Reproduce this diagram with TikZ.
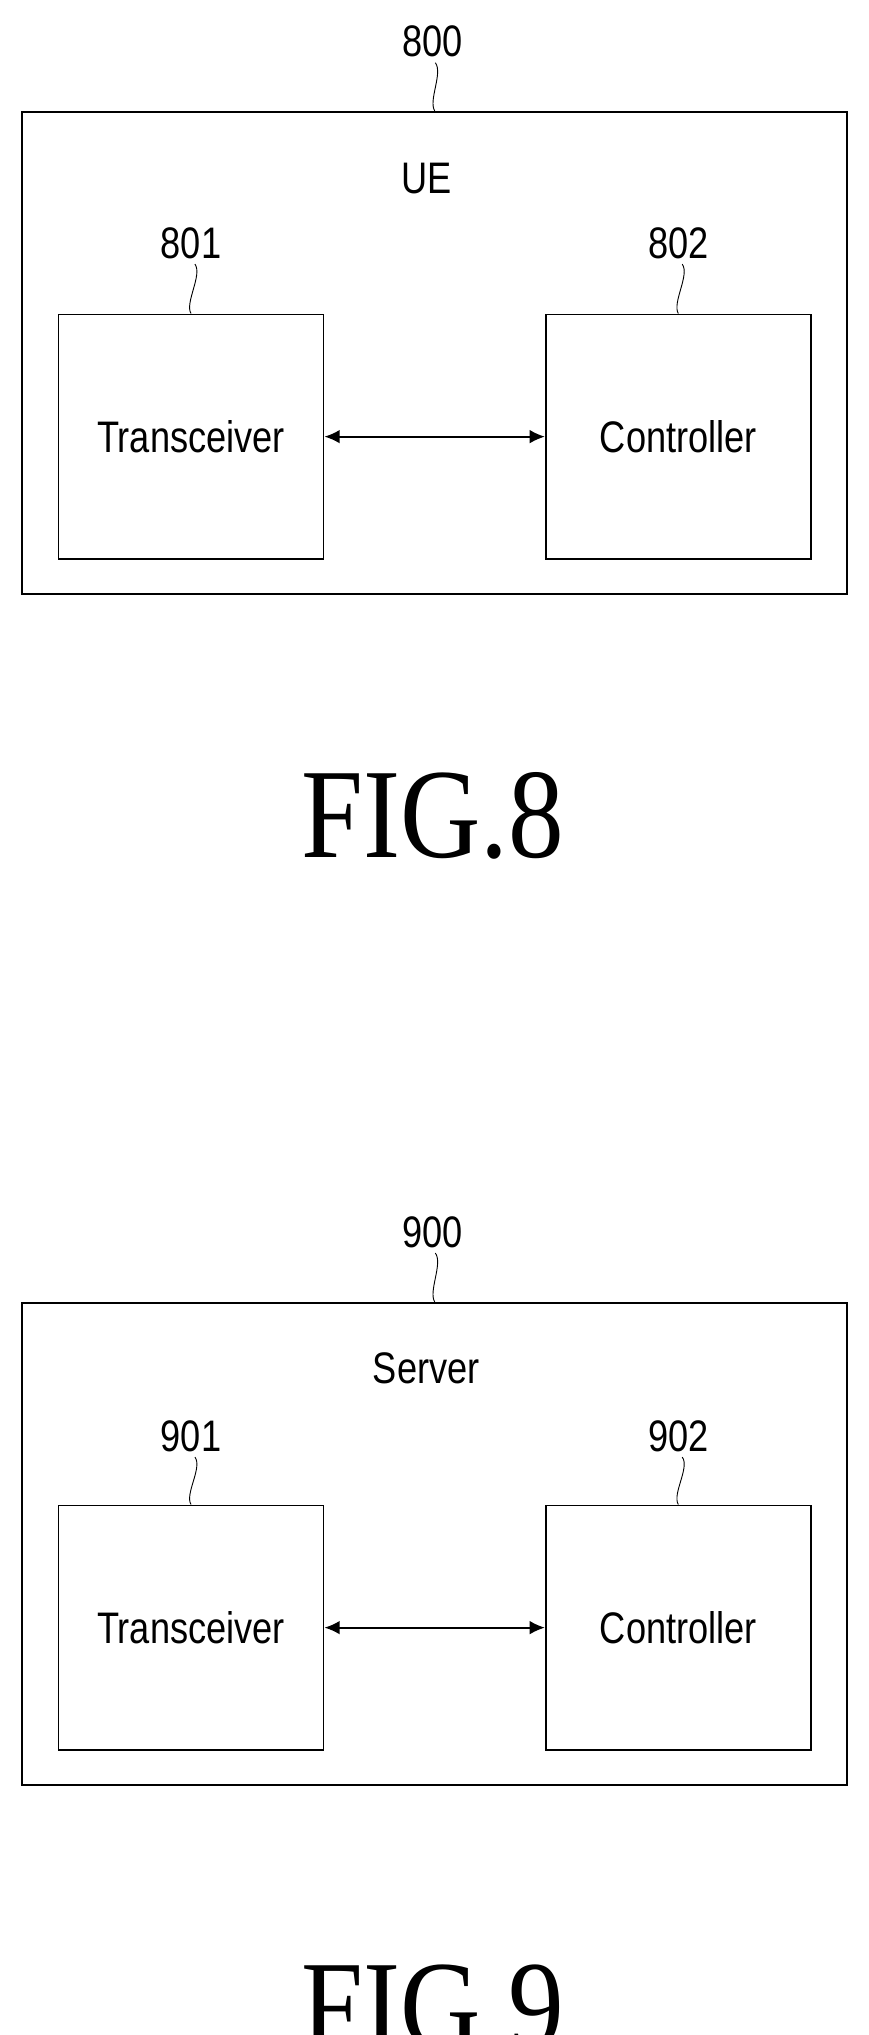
\documentclass[tikz,border=0pt]{standalone}
\usepackage{fontspec}
\usetikzlibrary{arrows.meta}
\setmainfont{Liberation Serif}
\setsansfont{Liberation Sans}
\newcommand{\narrow}[1]{\scalebox{0.82}[1]{#1}}
\tikzset{
  unitbox/.style={draw, line width=1.2pt, minimum width=6.12cm, minimum height=5.64cm, inner sep=0pt, font=\sffamily\fontsize{29}{32}\selectfont},
  outerbox/.style={draw, line width=1.2pt, minimum width=19.05cm, minimum height=11.13cm, inner sep=0pt},
  refnum/.style={font=\sffamily\fontsize{29}{32}\selectfont, inner sep=0pt},
  figlabel/.style={font=\fontsize{84}{90}\selectfont, inner sep=0pt},
  leader/.style={line width=0.6pt}
}
\begin{document}
\begin{tikzpicture}[>=latex, x=0.03cm, y=-0.03cm]
\useasboundingbox (0,0) rectangle (668,1566);

% FIG.8
\node(UEbox)[outerbox] at (334.5,271.5) {};
\node(UE)[refnum] at (328,137) {\narrow{UE}};
\node(N800)[refnum] at (333,32) {\narrow{800}};
\node(T8)[unitbox] at (147,336) {\narrow{Transceiver}};
\node(C8)[unitbox] at (522,336) {\narrow{Controller}};
\node(N801)[refnum] at (147,187) {\narrow{801}};
\node(N802)[refnum] at (522,187) {\narrow{802}};
\node(F8)[figlabel] at (333,628) {\scalebox{0.87}[1]{FIG.8}};

\draw[leader] (N800.south) ++(2,4) .. controls +(6,8) and +(-5,-8) .. (UEbox.north);
\draw[leader] (N801.south) ++(3,4) .. controls +(6,8) and +(-5,-8) .. (T8.north);
\draw[leader] (N802.south) ++(3,4) .. controls +(6,8) and +(-5,-8) .. (C8.north);
\draw[<->, line width=1.2pt, >={Latex[length=10pt,width=9pt]}] (T8.east) -- (C8.west);

% FIG.9
\node(SVbox)[outerbox] at (334.5,1188) {};
\node(SV)[refnum] at (328,1053) {\narrow{Server}};
\node(N900)[refnum] at (333,948) {\narrow{900}};
\node(T9)[unitbox] at (147,1252.5) {\narrow{Transceiver}};
\node(C9)[unitbox] at (522,1252.5) {\narrow{Controller}};
\node(N901)[refnum] at (147,1105) {\narrow{901}};
\node(N902)[refnum] at (522,1105) {\narrow{902}};
\node(F9)[figlabel] at (333,1545) {\scalebox{0.87}[1]{FIG.9}};

\draw[leader] (N900.south) ++(2,4) .. controls +(6,8) and +(-5,-8) .. (SVbox.north);
\draw[leader] (N901.south) ++(3,4) .. controls +(6,8) and +(-5,-8) .. (T9.north);
\draw[leader] (N902.south) ++(3,4) .. controls +(6,8) and +(-5,-8) .. (C9.north);
\draw[<->, line width=1.2pt, >={Latex[length=10pt,width=9pt]}] (T9.east) -- (C9.west);
\end{tikzpicture}
\end{document}
